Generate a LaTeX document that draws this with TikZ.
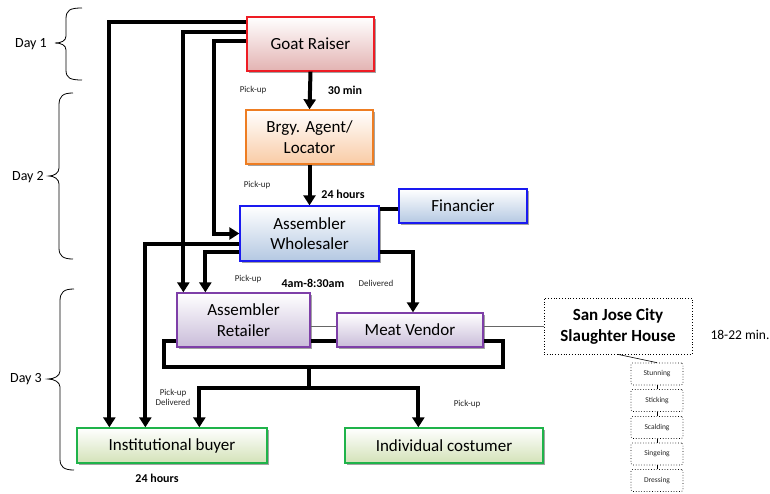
\documentclass[tikz,border=0pt]{standalone}
\usepackage{fontspec}
\setmainfont{Carlito}
\usetikzlibrary{arrows.meta,shadows,calc}

\definecolor{raiserline}{HTML}{EE1C24}
\definecolor{raiserfill}{HTML}{E3B3B2}
\definecolor{agentline}{HTML}{EE7D22}
\definecolor{agentfill}{HTML}{F9CBA5}
\definecolor{blueline}{HTML}{1A1AF0}
\definecolor{bluefill}{HTML}{B4C8E2}
\definecolor{purpleline}{HTML}{7E3FA8}
\definecolor{purplefill}{HTML}{C9BCD9}
\definecolor{greenline}{HTML}{1FB34A}
\definecolor{greenfill}{HTML}{D3E2B8}

\begin{document}
\begin{tikzpicture}[x=1pt,y=1pt,
  actor/.style={rectangle, line width=1.3pt, inner sep=0pt, align=center,
    font=\fontsize{17}{20.5}\selectfont,
    drop shadow={shadow xshift=2pt,shadow yshift=-2pt,fill=black!45,opacity=0.8}},
  raiserbox/.style={actor, draw=raiserline, top color=white, bottom color=raiserfill},
  agentbox/.style={actor, draw=agentline, top color=white, bottom color=agentfill},
  bluebox/.style={actor, draw=blueline, top color=white, bottom color=bluefill},
  purplebox/.style={actor, draw=purpleline, top color=white, bottom color=purplefill},
  greenbox/.style={actor, draw=greenline, top color=white, bottom color=greenfill},
  stagebox/.style={rectangle, draw=black, dotted, line width=0.7pt, rounded corners=1.5pt,
    minimum width=52pt, minimum height=22pt, inner sep=0pt,
    font=\fontsize{7.5}{8}\selectfont, text=black!85},
  arr/.style={line width=4pt, -{Triangle[length=10pt,width=12pt]}},
  thk/.style={line width=4pt},
  thinlink/.style={line width=0.6pt, draw=black!60},
  lbl/.style={font=\fontsize{9}{10.5}\selectfont, text=black!85, align=center},
  timelbl/.style={font=\bfseries\fontsize{12}{14}\selectfont},
  daylbl/.style={font=\fontsize{14}{16}\selectfont},
  brace/.style={line width=0.8pt, black}]

\useasboundingbox (0,0) rectangle (770,-493);

% actors of the chain
\node[raiserbox, minimum width=127pt, minimum height=54pt] (gr) at (310.5,-44) {Goat Raiser};
\node[agentbox, minimum width=127pt, minimum height=54pt] (ba) at (309.5,-137) {Brgy. Agent/\\Locator};
\node[bluebox, minimum width=139pt, minimum height=55pt] (aw) at (309.5,-233.5) {Assembler\\Wholesaler};
\node[bluebox, minimum width=128pt, minimum height=34pt] (fin) at (463,-206) {Financier};
\node[purplebox, minimum width=133pt, minimum height=54pt] (ar) at (243.5,-320) {Assembler\\Retailer};
\node[purplebox, minimum width=146pt, minimum height=34pt] (mv) at (410,-330) {Meat Vendor};
\node[greenbox, minimum width=190pt, minimum height=35pt] (ib) at (172,-445.5) {Institutional buyer};
\node[greenbox, minimum width=198pt, minimum height=35pt] (ic) at (444,-445.5) {Individual costumer};

% slaughter house and its stages
\node[rectangle, draw=black, dotted, line width=0.8pt, minimum width=148pt, minimum height=56pt,
  inner sep=0pt, align=center, font=\bfseries\fontsize{17}{21}\selectfont] (sj) at (618,-326)
  {San Jose City\\Slaughter House};
\node[stagebox] (s1) at (657,-374) {Stunning};
\node[stagebox] (s2) at (657,-400.5) {Sticking};
\node[stagebox] (s3) at (657,-427.5) {Scalding};
\node[stagebox] (s4) at (657,-454) {Singeing};
\node[stagebox] (s5) at (657,-480.5) {Dressing};

\draw[line width=0.6pt] (sj.south) -- (s1.north);
\draw[line width=0.6pt] (s1.south) -- (s2.north);
\draw[line width=0.6pt] (s2.south) -- (s3.north);
\draw[line width=0.6pt] (s3.south) -- (s4.north);
\draw[line width=0.6pt] (s4.south) -- (s5.north);

% main flow
\draw[arr] (gr.south) -- (ba.north);
\draw[arr] (ba.south) -- (aw.north);
\draw[arr] ([yshift=-6pt]gr.north west) -| ([xshift=33pt]ib.north west);
\draw[arr] ([yshift=-16pt]gr.north west) -| ([xshift=7pt]ar.north west);
\draw[arr] ([yshift=-25pt]gr.north west) -| ([xshift=-25pt]aw.west) -- (aw.west);
\draw[arr] ([yshift=-10.5pt]aw.west) -| ([xshift=69pt]ib.north west);
\draw[arr] ([yshift=-18.5pt]aw.west) -| ([xshift=29pt]ar.north west);
\draw[arr] ([yshift=-18.5pt]aw.east) -| ([xshift=3pt]mv.north);
\draw[thk] ($(fin.west)+(0,-3)$) -- ($(fin.west -| aw.east)+(0,-3)$);

% collection loop under retailer and vendor
\coordinate (bl) at (164,-367);
\coordinate (br) at (503,-367);
\coordinate (mid) at (309,-367);
\coordinate (split) at (309,-388);
\draw[thk] ([yshift=-21pt]ar.west) -| (bl) -- (br) |- ([yshift=-11pt]mv.east);
\draw[thk] ([yshift=-21pt]ar.east) -- ([yshift=-11pt]mv.west);
\draw[thk] (mid) -- (split);
\draw[arr] (split) -| ([xshift=123pt]ib.north west);
\draw[arr] (split) -| ([xshift=74pt]ic.north west);

% thin links
\draw[thinlink] ([yshift=-6pt]ar.east) -- ([yshift=4pt]mv.west);
\draw[thinlink] ([yshift=4pt]mv.east) -- (sj.west);

% labels
\node[lbl] (p1) at (253,-90) {Pick-up};
\node[timelbl] (t1) at (345,-90) {30 min};
\node[lbl] (p2) at (257,-185) {Pick-up};
\node[timelbl] (t2) at (343,-194) {24 hours};
\node[lbl] (p3) at (248,-279) {Pick-up};
\node[timelbl] (t3) at (313,-283) {4am-8:30am};
\node[lbl] (d3) at (376,-283) {Delivered};
\node[lbl] (p4) at (173,-397.5) {Pick-up\\Delivered};
\node[lbl] (p5) at (467,-404) {Pick-up};
\node[timelbl] (t4) at (157,-478) {24 hours};
\node[font=\fontsize{13.5}{15}\selectfont] (t5) at (740,-335) {18-22 min.};

% days
\node[daylbl] (day1) at (31,-44) {Day 1};
\node[daylbl] (day2) at (28,-177) {Day 2};
\node[daylbl] (day3) at (26,-379) {Day 3};

\draw[brace] (82,-8) .. controls (70,-8) and (66,-10) .. (66,-19) -- (66,-36)
  .. controls (66,-41) and (61,-43) .. (55,-43) .. controls (61,-43) and (66,-45) .. (66,-50)
  -- (66,-70) .. controls (66,-78) and (70,-80) .. (82,-80);
\draw[brace] (73,-93) .. controls (63,-93) and (59,-96) .. (59,-105) -- (59,-168)
  .. controls (59,-173) and (54,-176) .. (49,-176) .. controls (54,-176) and (59,-179) .. (59,-184)
  -- (59,-248) .. controls (59,-256) and (63,-259) .. (73,-259);
\draw[brace] (74,-289) .. controls (64,-289) and (60,-292) .. (60,-301) -- (60,-371)
  .. controls (60,-376) and (54,-379) .. (48,-379) .. controls (54,-379) and (60,-382) .. (60,-387)
  -- (60,-459) .. controls (60,-467) and (64,-470) .. (74,-470);

\end{tikzpicture}
\end{document}
